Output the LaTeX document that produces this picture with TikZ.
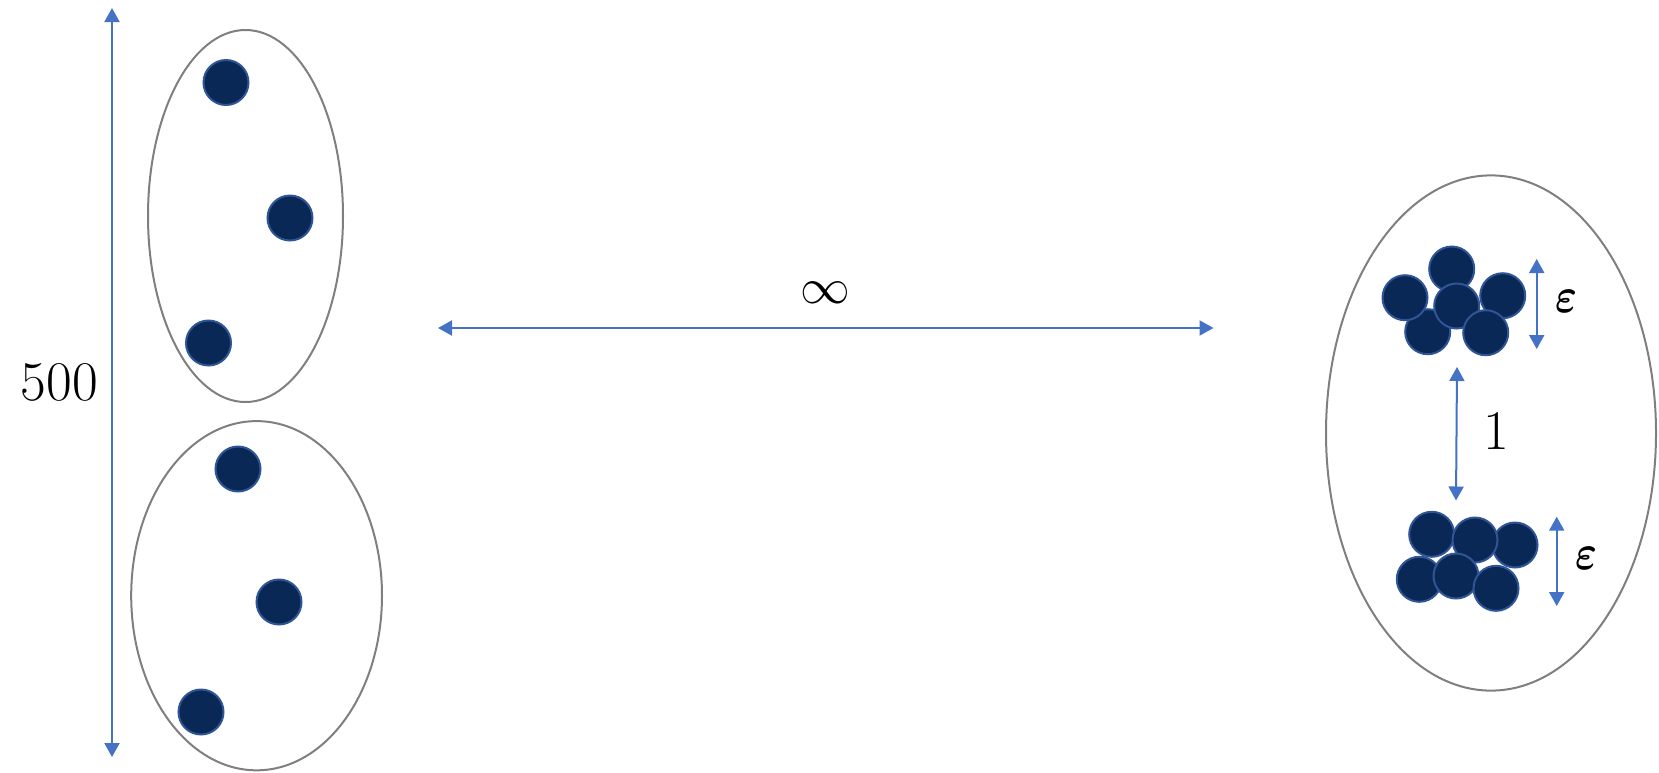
\documentclass[tikz,border=0pt]{standalone}
\usepackage{amsmath,amssymb}
\usepackage{tikz}
\usetikzlibrary{arrows.meta,shapes.geometric}
\definecolor{Navy}{HTML}{0A2855}
\definecolor{NavyRim}{HTML}{2F5597}
\definecolor{Rim}{HTML}{7F7F7F}
\definecolor{Dim}{HTML}{4472C4}
\tikzset{
  dot/.style={circle,draw=NavyRim,fill=Navy,line width=1pt,minimum size=22.5pt,inner sep=0pt},
  cloud/.style={ellipse,draw=Rim,line width=1pt,inner sep=0pt},
  dim/.style={{Triangle[width=7.5pt,length=7pt]}-{Triangle[width=7.5pt,length=7pt]},draw=Dim,fill=Dim,line width=1pt},
  big/.style={font=\fontsize{28}{32}\selectfont,inner sep=0pt},
  small/.style={font=\fontsize{22}{26}\selectfont,inner sep=0pt}
}
\newcommand{\eps}{\scalebox{1}[1.2]{$\boldsymbol{\varepsilon}$}}

\begin{document}
\begin{tikzpicture}[x=0.5pt,y=-0.5pt]
  \useasboundingbox (0,0) rectangle (1659,772);
  % left: two loose clusters, 500 apart
  \node[cloud,minimum width=97.5pt,minimum height=186pt] (topset) at (245.5,216) {};
  \node[cloud,minimum width=125.4pt,minimum height=174.6pt] (botset) at (256.6,595.7) {};
  \node[dot] (a1) at (226,82.5) {};
  \node[dot] (a2) at (290,218) {};
  \node[dot] (a3) at (208.5,343) {};
  \node[dot] (b1) at (238,469) {};
  \node[dot] (b2) at (279,602) {};
  \node[dot] (b3) at (201,712) {};
  \coordinate (vtop) at (112,8);
  \coordinate (vbot) at (112,757);
  \draw[dim] (vtop) -- node[big,left=6.5pt] {500} (vbot);

  % middle
  \coordinate (hl) at (438,328);
  \coordinate (hr) at (1213.5,328);
  \draw[dim] (hl) -- node[big,above=12pt,font=\fontsize{26}{30}\selectfont] {$\infty$} (hr);

  % right: two tight clusters, 1 apart
  \node[cloud,minimum width=165pt,minimum height=257.6pt] (rset) at (1491,433) {};
  \node[dot] (u4) at (1427.7,331.7) {};
  \node[dot] (u1) at (1451.7,269) {};
  \node[dot] (u2) at (1405,297.7) {};
  \node[dot] (u3) at (1502.7,295.7) {};
  \node[dot] (u5) at (1456.7,306) {};
  \node[dot] (u6) at (1485.7,332.7) {};
  \node[dot] (l4) at (1419.3,579.3) {};
  \node[dot] (l1) at (1431.7,534.3) {};
  \node[dot] (l3) at (1515,545) {};
  \node[dot] (l2) at (1475,540) {};
  \node[dot] (l5) at (1456,576) {};
  \node[dot] (l6) at (1496,588.3) {};
  \coordinate (gtop) at (1457,367);
  \coordinate (gbot) at (1456,500.5);
  \draw[dim] (gtop) -- node[big,right=13pt,yshift=1.5pt] {1} (gbot);
  \coordinate (e1top) at (1536.7,259);
  \coordinate (e1bot) at (1536.7,349);
  \draw[dim] (e1top) -- node[small,right=9pt,yshift=1.5pt] {\eps} (e1bot);
  \coordinate (e2top) at (1556.7,516.7);
  \coordinate (e2bot) at (1556.7,606);
  \draw[dim] (e2top) -- node[small,right=9pt,yshift=1.5pt] {\eps} (e2bot);
\end{tikzpicture}
\end{document}
